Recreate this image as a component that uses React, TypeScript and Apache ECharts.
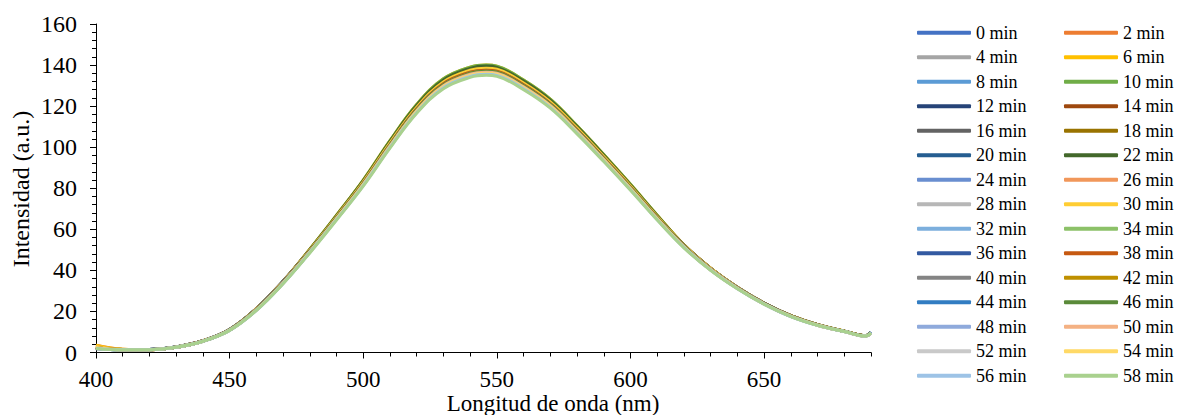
import React, { useEffect, useRef } from 'react';
import * as echarts from 'echarts';

// Wavelength sample points (nm)
const wavelengths = [400, 410, 420, 430, 440, 450, 460, 470, 480, 490, 500, 510, 520, 530, 540, 546, 550, 560, 570, 580, 590, 600, 610, 620, 630, 640, 650, 660, 670, 680, 688, 690];

// Intensity (a.u.) for each time
const min0 = [2.5, 1.4, 1.5, 2.7, 5.7, 11.2, 21.3, 34.6, 49.6, 65.9, 82.8, 101.7, 119.1, 131.3, 137.0, 138, 137.5, 130.8, 121.6, 108.8, 95.0, 80.7, 65.9, 52.2, 40.9, 31.7, 24.0, 17.9, 13.5, 10.4, 8.2, 9.9];
const min2 = [3.5, 1.6, 1.4, 2.6, 5.6, 11.1, 21.2, 34.5, 50.1, 66.6, 83.7, 102.8, 120.3, 132.7, 138.4, 139.5, 138.9, 132.2, 122.9, 110.0, 96.1, 81.6, 66.6, 52.4, 41.0, 31.7, 24.0, 17.9, 13.5, 10.4, 8.2, 9.6];
const min4 = [2.6, 1.5, 1.5, 2.7, 5.7, 11.2, 21.2, 34.6, 49.8, 66.2, 83.1, 102.1, 119.5, 131.8, 137.5, 138.5, 138.0, 131.3, 122.1, 109.3, 95.4, 81.1, 66.2, 52.2, 40.9, 31.6, 24.0, 17.9, 13.5, 10.4, 8.1, 9.6];
const min6 = [3.6, 1.6, 1.4, 2.7, 5.7, 11.2, 21.3, 34.7, 50.3, 66.9, 84.0, 103.2, 120.8, 133.3, 139.0, 140, 139.5, 132.7, 123.4, 110.4, 96.4, 81.9, 66.9, 52.5, 41.1, 31.8, 24.1, 18.0, 13.6, 10.4, 8.2, 9.6];
const min8 = [2.0, 1.3, 1.5, 2.7, 5.6, 11.1, 21.2, 34.5, 49.6, 65.9, 82.8, 101.7, 119.1, 131.3, 137.0, 138, 137.5, 130.8, 121.6, 108.8, 95.0, 80.7, 65.9, 52.1, 40.8, 31.6, 23.9, 17.8, 13.4, 10.3, 8.1, 9.6];
const min10 = [2.6, 1.5, 1.5, 2.7, 5.7, 11.2, 21.3, 34.6, 50.3, 66.9, 84.0, 103.2, 120.8, 133.3, 139.0, 140, 139.5, 132.7, 123.4, 110.4, 96.4, 81.9, 66.9, 52.4, 41.0, 31.7, 24.0, 17.9, 13.5, 10.4, 8.2, 9.7];
const min12 = [2.4, 1.4, 1.5, 2.7, 5.7, 11.2, 21.4, 34.8, 49.8, 66.1, 83.0, 101.9, 119.3, 131.4, 137.0, 138, 137.6, 131.0, 121.9, 109.1, 95.3, 80.9, 66.1, 52.3, 41.0, 31.8, 24.1, 18.0, 13.5, 10.4, 8.2, 9.8];
const min14 = [2.8, 1.4, 1.4, 2.6, 5.6, 11.1, 21.2, 34.5, 50.0, 66.4, 83.4, 102.5, 120.0, 132.4, 138.0, 139, 138.5, 131.8, 122.6, 109.7, 95.8, 81.4, 66.4, 52.3, 41.0, 31.7, 24.0, 17.9, 13.5, 10.4, 8.2, 9.6];
const min16 = [2.3, 1.4, 1.5, 2.7, 5.7, 11.2, 21.3, 34.6, 49.8, 66.2, 83.1, 102.1, 119.5, 131.8, 137.5, 138.5, 138.0, 131.3, 122.1, 109.3, 95.4, 81.1, 66.2, 52.2, 40.9, 31.6, 24.0, 17.9, 13.5, 10.3, 8.1, 9.6];
const min18 = [2.9, 1.5, 1.4, 2.6, 5.6, 11.1, 21.2, 34.5, 50.0, 66.4, 83.4, 102.5, 120.0, 132.4, 138.0, 139, 138.5, 131.8, 122.6, 109.7, 95.8, 81.4, 66.4, 52.2, 40.9, 31.7, 24.0, 17.9, 13.5, 10.4, 8.1, 9.6];
const min20 = [2.2, 1.4, 1.5, 2.7, 5.7, 11.2, 21.3, 34.6, 49.6, 65.9, 82.8, 101.7, 119.1, 131.3, 137.0, 138, 137.5, 130.8, 121.6, 108.8, 95.0, 80.7, 65.9, 52.1, 40.8, 31.6, 23.9, 17.8, 13.4, 10.3, 8.1, 9.7];
const min22 = [2.6, 1.4, 1.4, 2.6, 5.6, 11.1, 21.2, 34.5, 50.1, 66.6, 83.7, 102.8, 120.3, 132.7, 138.4, 139.5, 138.9, 132.2, 122.9, 110.0, 96.1, 81.6, 66.6, 52.3, 41.0, 31.7, 24.0, 17.9, 13.5, 10.4, 8.2, 9.6];
const min24 = [2.1, 1.3, 1.4, 2.6, 5.6, 11.0, 20.9, 34.1, 49.4, 65.7, 82.5, 101.3, 118.7, 130.9, 136.5, 137.5, 137.0, 130.4, 121.2, 108.5, 94.7, 80.5, 65.7, 51.8, 40.6, 31.4, 23.8, 17.7, 13.4, 10.3, 8.1, 9.6];
const min26 = [2.7, 1.5, 1.5, 2.7, 5.7, 11.1, 21.2, 34.5, 49.6, 65.9, 82.8, 101.7, 119.1, 131.3, 137.0, 138, 137.5, 130.8, 121.6, 108.8, 95.0, 80.7, 65.9, 52.1, 40.8, 31.6, 23.9, 17.8, 13.4, 10.3, 8.1, 9.6];
const min28 = [2.0, 1.3, 1.4, 2.6, 5.6, 11.0, 20.9, 34.1, 49.4, 65.7, 82.5, 101.3, 118.7, 130.9, 136.5, 137.5, 137.0, 130.4, 121.2, 108.5, 94.7, 80.5, 65.7, 51.7, 40.5, 31.4, 23.8, 17.7, 13.4, 10.3, 8.1, 9.6];
const min30 = [3.0, 1.5, 1.4, 2.6, 5.6, 11.1, 21.2, 34.5, 49.8, 66.2, 83.1, 102.1, 119.5, 131.8, 137.5, 138.5, 138.0, 131.3, 122.1, 109.3, 95.4, 81.1, 66.2, 52.2, 40.9, 31.6, 24.0, 17.9, 13.5, 10.4, 8.1, 9.6];
const min32 = [1.9, 1.3, 1.4, 2.6, 5.5, 10.9, 20.8, 34.0, 49.2, 65.5, 82.2, 101.0, 118.2, 130.4, 136.0, 137, 136.5, 129.9, 120.8, 108.1, 94.4, 80.2, 65.5, 51.7, 40.5, 31.4, 23.8, 17.7, 13.4, 10.3, 8.1, 9.6];
const min34 = [2.2, 1.3, 1.4, 2.6, 5.6, 11.0, 20.9, 34.1, 49.4, 65.7, 82.5, 101.3, 118.7, 130.9, 136.5, 137.5, 137.0, 130.4, 121.2, 108.5, 94.7, 80.5, 65.7, 51.7, 40.5, 31.4, 23.8, 17.7, 13.4, 10.3, 8.1, 9.6];
const min36 = [2.3, 1.4, 1.4, 2.6, 5.6, 11.0, 21.0, 34.3, 49.4, 65.6, 82.3, 101.1, 118.3, 130.4, 136.0, 137, 136.6, 130.1, 121.0, 108.3, 94.6, 80.3, 65.6, 51.8, 40.6, 31.5, 23.9, 17.8, 13.4, 10.3, 8.1, 9.7];
const min38 = [2.5, 1.4, 1.4, 2.6, 5.6, 11.0, 20.9, 34.1, 49.4, 65.7, 82.5, 101.3, 118.7, 130.9, 136.5, 137.5, 137.0, 130.4, 121.2, 108.5, 94.7, 80.5, 65.7, 51.7, 40.5, 31.4, 23.8, 17.7, 13.4, 10.3, 8.1, 9.6];
const min40 = [2.0, 1.3, 1.4, 2.6, 5.5, 10.9, 20.8, 34.0, 49.2, 65.5, 82.2, 101.0, 118.2, 130.4, 136.0, 137, 136.5, 129.9, 120.8, 108.1, 94.4, 80.2, 65.5, 51.7, 40.5, 31.4, 23.8, 17.7, 13.4, 10.3, 8.1, 9.6];
const min42 = [2.4, 1.4, 1.4, 2.6, 5.5, 10.9, 20.8, 34.0, 49.2, 65.5, 82.2, 101.0, 118.2, 130.4, 136.0, 137, 136.5, 129.9, 120.8, 108.1, 94.4, 80.2, 65.5, 51.7, 40.5, 31.4, 23.8, 17.7, 13.4, 10.3, 8.1, 9.6];
const min44 = [2.1, 1.3, 1.4, 2.6, 5.5, 10.9, 20.7, 33.9, 49.0, 65.2, 81.9, 100.6, 117.8, 129.9, 135.5, 136.5, 136.0, 129.4, 120.3, 107.7, 94.0, 79.9, 65.2, 51.5, 40.4, 31.3, 23.7, 17.6, 13.3, 10.2, 8.0, 9.7];
const min46 = [2.2, 1.3, 1.4, 2.6, 5.5, 10.9, 20.8, 34.0, 49.2, 65.5, 82.2, 101.0, 118.2, 130.4, 136.0, 137, 136.5, 129.9, 120.8, 108.1, 94.4, 80.2, 65.5, 51.7, 40.5, 31.4, 23.8, 17.7, 13.4, 10.3, 8.1, 9.6];
const min48 = [1.9, 1.3, 1.4, 2.6, 5.5, 10.8, 20.6, 33.7, 48.9, 65.0, 81.6, 100.2, 117.4, 129.5, 135.0, 136, 135.5, 128.9, 119.9, 107.3, 93.7, 79.6, 65.0, 51.3, 40.2, 31.2, 23.6, 17.6, 13.3, 10.2, 8.0, 9.5];
const min50 = [2.3, 1.3, 1.4, 2.6, 5.5, 10.9, 20.7, 33.9, 49.0, 65.2, 81.9, 100.6, 117.8, 129.9, 135.5, 136.5, 136.0, 129.4, 120.3, 107.7, 94.0, 79.9, 65.2, 51.5, 40.4, 31.3, 23.7, 17.6, 13.3, 10.2, 8.0, 9.5];
const min52 = [2.0, 1.3, 1.4, 2.6, 5.5, 10.8, 20.6, 33.7, 48.9, 65.0, 81.6, 100.2, 117.4, 129.5, 135.0, 136, 135.5, 128.9, 119.9, 107.3, 93.7, 79.6, 65.0, 51.3, 40.2, 31.2, 23.6, 17.6, 13.3, 10.2, 8.0, 9.5];
const min54 = [2.4, 1.3, 1.4, 2.6, 5.5, 10.8, 20.6, 33.7, 48.9, 65.0, 81.6, 100.2, 117.4, 129.5, 135.0, 136, 135.5, 128.9, 119.9, 107.3, 93.7, 79.6, 65.0, 51.3, 40.2, 31.2, 23.6, 17.6, 13.3, 10.2, 8.0, 9.5];
const min56 = [2.1, 1.3, 1.4, 2.6, 5.5, 10.8, 20.5, 33.6, 48.7, 64.7, 81.3, 99.9, 116.9, 129.0, 134.5, 135.5, 135.0, 128.5, 119.4, 106.9, 93.3, 79.3, 64.7, 51.2, 40.1, 31.1, 23.6, 17.5, 13.2, 10.2, 8.0, 9.5];
const min58 = [2.0, 1.3, 1.4, 2.6, 5.5, 10.8, 20.5, 33.5, 48.5, 64.5, 81.0, 99.5, 116.5, 128.5, 134.0, 135, 134.5, 128.0, 119.0, 106.5, 93.0, 79.0, 64.5, 51.0, 40.0, 31.0, 23.5, 17.5, 13.2, 10.2, 8.0, 9.5];

const seriesNames = ['0 min', '2 min', '4 min', '6 min', '8 min', '10 min', '12 min', '14 min', '16 min', '18 min', '20 min', '22 min', '24 min', '26 min', '28 min', '30 min', '32 min', '34 min', '36 min', '38 min', '40 min', '42 min', '44 min', '46 min', '48 min', '50 min', '52 min', '54 min', '56 min', '58 min'];
const seriesValues = [min0, min2, min4, min6, min8, min10, min12, min14, min16, min18, min20, min22, min24, min26, min28, min30, min32, min34, min36, min38, min40, min42, min44, min46, min48, min50, min52, min54, min56, min58];
const seriesColors = [
  '#4472C4', '#ED7D31', '#A5A5A5', '#FFC000', '#5B9BD5', '#70AD47',
  '#264478', '#9E480E', '#636363', '#997300', '#255E91', '#43682B',
  '#698ED0', '#F1975A', '#B7B7B7', '#FFCD33', '#7CAFDD', '#8CC168',
  '#335AA1', '#C65911', '#848484', '#BF9000', '#327DC2', '#5A8A39',
  '#8FAADC', '#F4B183', '#C9C9C9', '#FFD966', '#9DC3E6', '#A9D18E',
];

const xTitle = 'Longitud de onda (nm)';
const yTitle = 'Intensidad (a.u.)';

export default function App() {
  const ref = useRef<HTMLDivElement>(null);

  useEffect(() => {
    if (!ref.current) return;
    const chart = echarts.init(ref.current, null, { renderer: 'svg' });
    const font = "'Liberation Serif', 'Times New Roman', serif";

    const series = seriesNames.map((name, i) => ({
      name,
      type: 'line',
      xAxisIndex: 0,
      yAxisIndex: 0,
      data: wavelengths.map((w, j) => [w, seriesValues[i][j]]),
      smooth: 0.4,
      symbol: 'none',
      showSymbol: false,
      lineStyle: { color: seriesColors[i], width: 3 },
      itemStyle: { color: seriesColors[i] },
    }));

    const legendBase = {
      orient: 'vertical',
      top: 20.5,
      padding: 0,
      itemGap: 0,
      itemWidth: 54,
      itemHeight: 4,
      icon: 'roundRect',
      selectedMode: false,
      textStyle: { fontFamily: font, fontSize: 18, color: '#000', lineHeight: 24.5 },
    };

    chart.setOption({
      animation: false,
      backgroundColor: '#fff',
      grid: { left: 96, right: 307, top: 24, bottom: 62.5, containLabel: false },
      xAxis: [
        {
          type: 'value',
          min: 400,
          max: 690,
          interval: 50,
          position: 'bottom',
          axisLine: { show: true, onZero: false, lineStyle: { color: '#000', width: 1 } },
          axisTick: { show: true, length: 6, lineStyle: { color: '#000' } },
          axisLabel: { fontFamily: font, fontSize: 23, lineHeight: 18, color: '#000', margin: 18, showMaxLabel: false },
          splitLine: { show: false },
        },
        {
          type: 'value',
          min: 400,
          max: 690,
          interval: 10,
          position: 'bottom',
          axisLine: { show: false },
          axisTick: { show: true, length: 4, lineStyle: { color: '#000' } },
          axisLabel: { show: false },
          splitLine: { show: false },
        },
      ],
      yAxis: {
        type: 'value',
        min: 0,
        max: 160,
        interval: 20,
        axisLine: { show: true, lineStyle: { color: '#000', width: 1 } },
        axisTick: { show: true, length: 6, lineStyle: { color: '#000' } },
        minorTick: { show: true, splitNumber: 5, length: 4, lineStyle: { color: '#000' } },
        axisLabel: { fontFamily: font, fontSize: 24, color: '#000', margin: 19 },
        splitLine: { show: false },
      },
      legend: [
        { ...legendBase, left: 917, data: seriesNames.filter((_, i) => i % 2 === 0) },
        { ...legendBase, left: 1064, data: seriesNames.filter((_, i) => i % 2 === 1) },
      ],
      graphic: [
        {
          type: 'text',
          x: 553,
          y: 403,
          style: {
            text: xTitle,
            font: `23px ${font}`,
            lineHeight: 18,
            fill: '#000',
            align: 'center',
            verticalAlign: 'middle',
            textAlign: 'center',
            textVerticalAlign: 'middle',
          },
        },
        {
          type: 'text',
          x: 21,
          y: 189,
          rotation: Math.PI / 2,
          style: {
            text: yTitle,
            font: `24px ${font}`,
            fill: '#000',
            align: 'center',
            verticalAlign: 'middle',
            textAlign: 'center',
            textVerticalAlign: 'middle',
          },
        },
      ],
      series,
    });

    return () => chart.dispose();
  }, []);

  return (
    <div
      ref={ref}
      style={{ position: 'absolute', left: 0, top: 0, width: 1178, height: 415 }}
    />
  );
}
